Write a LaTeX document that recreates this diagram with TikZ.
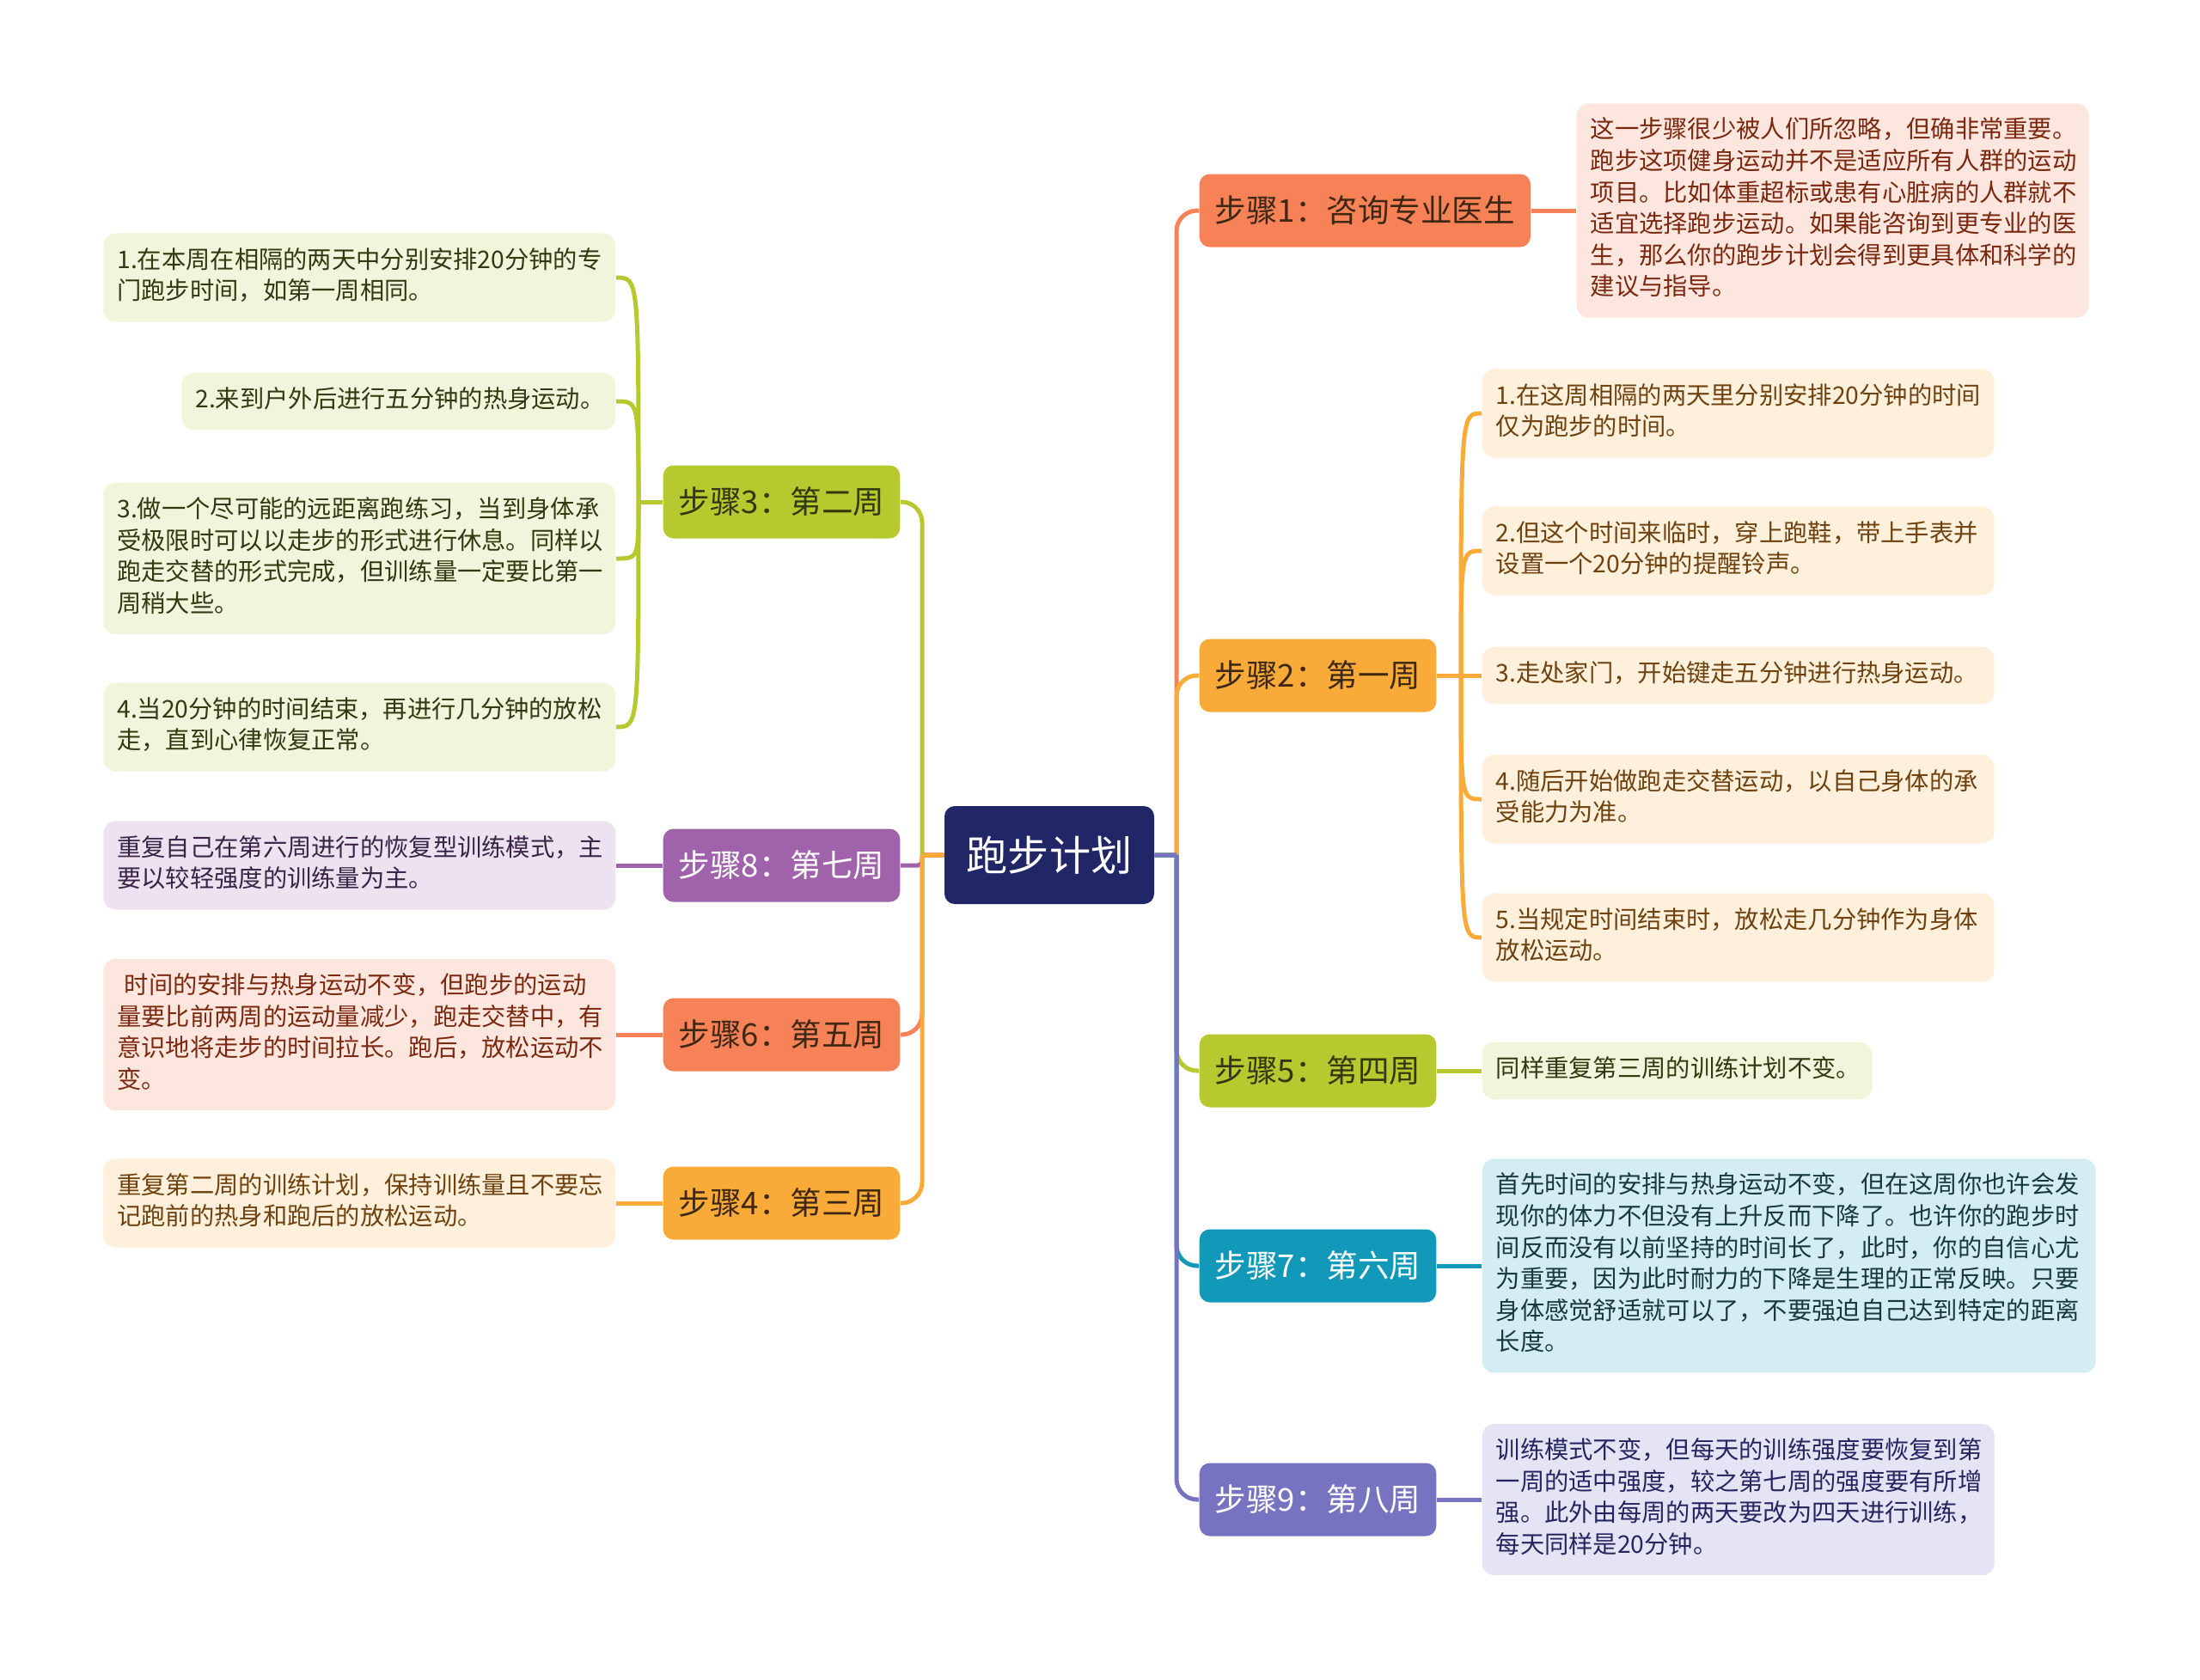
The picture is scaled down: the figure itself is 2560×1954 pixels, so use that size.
\documentclass[tikz,border=0pt]{standalone}
\usepackage{fontspec}
\setmainfont{Noto Sans CJK SC}
\usepackage{xcolor}
\definecolor{mynavy}{RGB}{32,38,102}
\definecolor{mycoral}{RGB}{248,130,88}
\definecolor{myorange}{RGB}{249,171,58}
\definecolor{mylime}{RGB}{182,201,46}
\definecolor{myteal}{RGB}{18,152,184}
\definecolor{myviolet}{RGB}{160,98,170}
\definecolor{myblue}{RGB}{118,116,192}
\definecolor{mypink}{RGB}{253,230,222}
\definecolor{mycream}{RGB}{254,240,218}
\definecolor{mypalelime}{RGB}{242,245,220}
\definecolor{mypaleteal}{RGB}{212,237,243}
\definecolor{mypaleblue}{RGB}{228,228,244}
\definecolor{mypaleviolet}{RGB}{237,226,240}
\definecolor{mycoraltext}{RGB}{122,40,16}
\definecolor{myorangetext}{RGB}{110,66,16}
\definecolor{mylimetext}{RGB}{50,56,16}
\definecolor{myteal text}{RGB}{24,56,64}
\definecolor{mybluetext}{RGB}{37,37,96}
\definecolor{myviolettext}{RGB}{58,36,70}
\definecolor{mydarkstep}{RGB}{62,40,20}
\newcommand*{\notefont}{\fontsize{8.05pt}{10.4pt}\selectfont}
\newcommand*{\stepfont}{\fontsize{10.4pt}{12.5pt}\selectfont}
\newcommand*{\planfont}{\fontsize{13.7pt}{16pt}\selectfont}

\begin{document}
\begin{tikzpicture}[x=0.1mm,y=-0.1mm,
    link/.style={line width=0.5mm},
    plan/.style={fill=mynavy,text=white,rounded corners=1.2mm,minimum width=24.4mm,minimum height=11.4mm,inner sep=0pt,font=\planfont},
    stepbox/.style={rounded corners=1.2mm,minimum height=8.5mm,inner xsep=1.8mm,inner ysep=0pt,font=\stepfont},
    note/.style={rounded corners=1.4mm,text width=56.4mm,align=left,inner xsep=1.6mm,inner ysep=1.5mm,font=\notefont,
      execute at begin node=\strut,execute at end node=\strut}]
    \useasboundingbox (0,0) rectangle (2560,1954);
    % centre
    \node[plan] (plan) at (1221,995) {跑步计划};
    % right branches
    \node[stepbox,fill=mycoral,text=mydarkstep,anchor=west] (s1) at (1395,245) {步骤1：咨询专业医生};
    \node[stepbox,fill=myorange,text=mydarkstep,anchor=west] (s2) at (1395,786) {步骤2：第一周};
    \node[stepbox,fill=mylime,text=mylimetext,anchor=west] (s5) at (1395,1246) {步骤5：第四周};
    \node[stepbox,fill=myteal,text=white,anchor=west] (s7) at (1395,1473) {步骤7：第六周};
    \node[stepbox,fill=myblue,text=white,anchor=west] (s9) at (1395,1745) {步骤9：第八周};
    % left branches
    \node[stepbox,fill=mylime,text=mylimetext,anchor=east] (s3) at (1048,584) {步骤3：第二周};
    \node[stepbox,fill=myviolet,text=white,anchor=east] (s8) at (1048,1007) {步骤8：第七周};
    \node[stepbox,fill=mycoral,text=mydarkstep,anchor=east] (s6) at (1048,1204) {步骤6：第五周};
    \node[stepbox,fill=myorange,text=mydarkstep,anchor=east] (s4) at (1048,1400) {步骤4：第三周};
    % notes, right
    \node[note,fill=mypink,text=mycoraltext,anchor=west] (d1) at (1834,245) {这一步骤很少被人们所忽略，但确非常重要。\\跑步这项健身运动并不是适应所有人群的运动\\项目。比如体重超标或患有心脏病的人群就不\\适宜选择跑步运动。如果能咨询到更专业的医\\生，那么你的跑步计划会得到更具体和科学的\\建议与指导。};
    \node[note,fill=mycream,text=myorangetext,anchor=west] (d2a) at (1724,481) {1.在这周相隔的两天里分别安排20分钟的时间\\仅为跑步的时间。};
    \node[note,fill=mycream,text=myorangetext,anchor=west] (d2b) at (1724,641) {2.但这个时间来临时，穿上跑鞋，带上手表并\\设置一个20分钟的提醒铃声。};
    \node[note,fill=mycream,text=myorangetext,anchor=west] (d2c) at (1724,786) {3.走处家门，开始键走五分钟进行热身运动。};
    \node[note,fill=mycream,text=myorangetext,anchor=west] (d2d) at (1724,930) {4.随后开始做跑走交替运动，以自己身体的承\\受能力为准。};
    \node[note,fill=mycream,text=myorangetext,anchor=west] (d2e) at (1724,1091) {5.当规定时间结束时，放松走几分钟作为身体\\放松运动。};
    \node[note,fill=mypalelime,text=mylimetext,anchor=west,text width=42.2mm] (d5) at (1724,1246) {同样重复第三周的训练计划不变。};
    \node[note,fill=mypaleteal,text=myteal text,anchor=west,text width=68.2mm] (d7) at (1724,1473) {首先时间的安排与热身运动不变，但在这周你也许会发\\现你的体力不但没有上升反而下降了。也许你的跑步时\\间反而没有以前坚持的时间长了，此时，你的自信心尤\\为重要，因为此时耐力的下降是生理的正常反映。只要\\身体感觉舒适就可以了，不要强迫自己达到特定的距离\\长度。};
    \node[note,fill=mypaleblue,text=mybluetext,anchor=west] (d9) at (1724,1745) {训练模式不变，但每天的训练强度要恢复到第\\一周的适中强度，较之第七周的强度要有所增\\强。此外由每周的两天要改为四天进行训练，\\每天同样是20分钟。};
    % notes, left
    \node[note,fill=mypalelime,text=mylimetext,anchor=east] (d3a) at (717,323) {1.在本周在相隔的两天中分别安排20分钟的专\\门跑步时间，如第一周相同。};
    \node[note,fill=mypalelime,text=mylimetext,anchor=east,text width=47.3mm] (d3b) at (717,467) {2.来到户外后进行五分钟的热身运动。};
    \node[note,fill=mypalelime,text=mylimetext,anchor=east] (d3c) at (717,650) {3.做一个尽可能的远距离跑练习，当到身体承\\受极限时可以以走步的形式进行休息。同样以\\跑走交替的形式完成，但训练量一定要比第一\\周稍大些。};
    \node[note,fill=mypalelime,text=mylimetext,anchor=east] (d3d) at (717,846) {4.当20分钟的时间结束，再进行几分钟的放松\\走，直到心律恢复正常。};
    \node[note,fill=mypaleviolet,text=myviolettext,anchor=east] (d8) at (717,1007) {重复自己在第六周进行的恢复型训练模式，主\\要以较轻强度的训练量为主。};
    \node[note,fill=mypink,text=mycoraltext,anchor=east] (d6) at (717,1204) {\hspace*{0.3em}时间的安排与热身运动不变，但跑步的运动\\量要比前两周的运动量减少，跑走交替中，有\\意识地将走步的时间拉长。跑后，放松运动不\\变。};
    \node[note,fill=mycream,text=myorangetext,anchor=east] (d4) at (717,1400) {重复第二周的训练计划，保持训练量且不要忘\\记跑前的热身和跑后的放松运动。};
    % branch lines
    \coordinate (rj) at (1369,995);
    \coordinate (lj) at (1073,995);
    \draw[link,mycoral] (plan.east) -- (rj) (rj) [rounded corners=2.4mm] |- (s1.west);
    \draw[link,myorange] (plan.east) -- (rj) (rj) [rounded corners=2.4mm] |- (s2.west);
    \draw[link,mylime] (plan.east) -- (rj) (rj) [rounded corners=2.4mm] |- (s5.west);
    \draw[link,myteal] (plan.east) -- (rj) (rj) [rounded corners=2.4mm] |- (s7.west);
    \draw[link,myblue] (plan.east) -- (rj) (rj) [rounded corners=2.4mm] |- (s9.west);
    \draw[link,mylime] (plan.west) -- (lj) (lj) [rounded corners=2.4mm] |- (s3.east);
    \draw[link,myviolet] (plan.west) -- (lj) (lj) [rounded corners=0.5mm] |- (s8.east);
    \draw[link,mycoral] (plan.west) -- (lj) (lj) [rounded corners=2.4mm] |- (s6.east);
    \draw[link,myorange] (plan.west) -- (lj) (lj) [rounded corners=2.4mm] |- (s4.east);
    % note lines
    \coordinate (j2) at (1700,786);
    \coordinate (j3) at (743,584);
    \draw[link,mycoral] (s1.east) -- (d1.west);
    \draw[link,myorange] (s2.east) -- (j2);
    \draw[link,myorange] (j2) .. controls (j2 |- d2a.west) .. (d2a.west);
    \draw[link,myorange] (j2) .. controls (j2 |- d2b.west) .. (d2b.west);
    \draw[link,myorange] (j2) -- (d2c.west);
    \draw[link,myorange] (j2) .. controls (j2 |- d2d.west) .. (d2d.west);
    \draw[link,myorange] (j2) .. controls (j2 |- d2e.west) .. (d2e.west);
    \draw[link,mylime] (s5.east) -- (d5.west);
    \draw[link,myteal] (s7.east) -- (d7.west);
    \draw[link,myblue] (s9.east) -- (d9.west);
    \draw[link,mylime] (s3.west) -- (j3);
    \draw[link,mylime] (j3) .. controls (j3 |- d3a.east) .. (d3a.east);
    \draw[link,mylime] (j3) .. controls (j3 |- d3b.east) .. (d3b.east);
    \draw[link,mylime] (j3) .. controls (j3 |- d3c.east) .. (d3c.east);
    \draw[link,mylime] (j3) .. controls (j3 |- d3d.east) .. (d3d.east);
    \draw[link,myviolet] (s8.west) -- (d8.east);
    \draw[link,mycoral] (s6.west) -- (d6.east);
    \draw[link,myorange] (s4.west) -- (d4.east);
\end{tikzpicture}
\end{document}
